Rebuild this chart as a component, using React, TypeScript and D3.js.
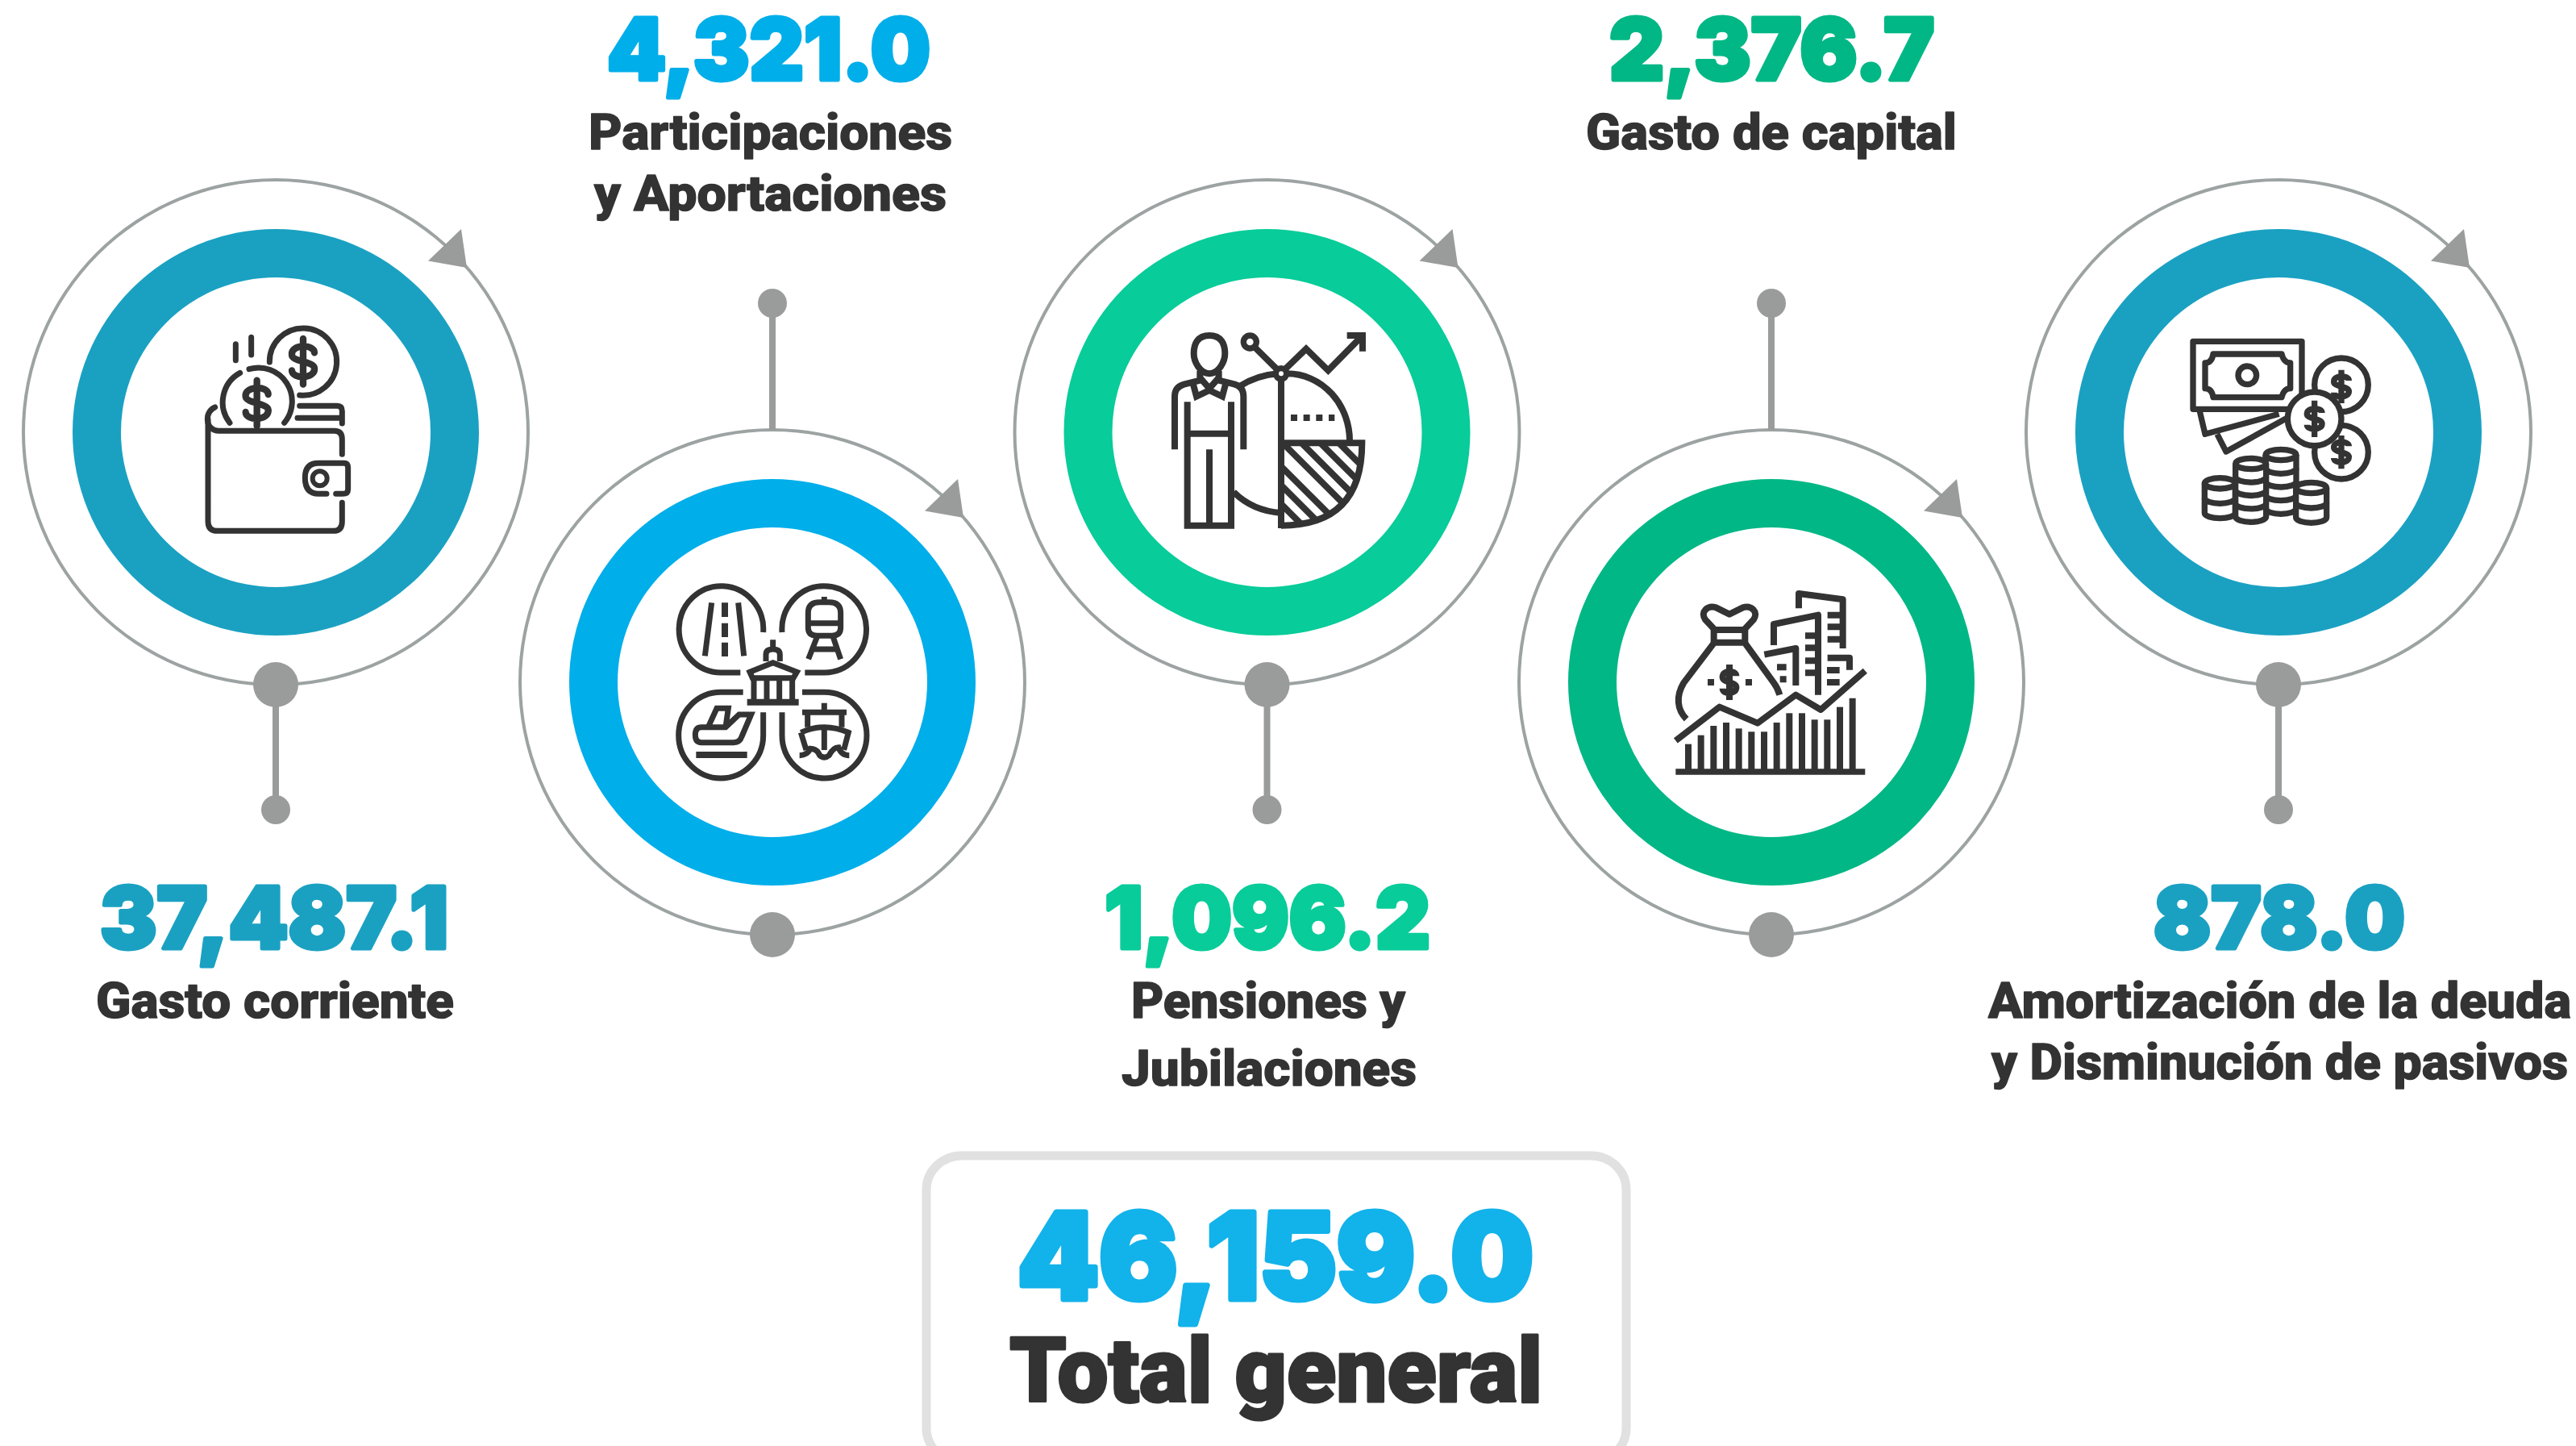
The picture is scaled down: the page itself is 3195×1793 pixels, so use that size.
import React from "react";
import { arc, format, scaleOrdinal } from "d3";

const WIDTH = 3195;
const HEIGHT = 1793;

// data
const categories = ["corriente", "participaciones", "pensiones", "capital", "amortizacion"];
const values = [37487.1, 4321.0, 1096.2, 2376.7, 878.0];
const labels = [
  ["Gasto corriente"],
  ["Participaciones", "y Aportaciones"],
  ["Pensiones y", "Jubilaciones"],
  ["Gasto de capital"],
  ["Amortización de la deuda", "y Disminución de pasivos"],
];
const totalValue = 46159.0;
const totalLabel = "Total general";

// layout
const centerXs = [342, 958, 1571.5, 2197, 2826];
const ringColors = ["#1aa1c2", "#00aeea", "#08cc99", "#00b785", "#1aa1c2"];
const valueSpans = [[124, 556], [753, 1154], [1370, 1774], [1996, 2399], [2671, 2983]];
const labelSpans = [
  [[119, 563]],
  [[730, 1181], [737, 1174]],
  [[1403, 1743], [1391, 1757]],
  [[1967, 2427]],
  [[2466, 3189], [2470, 3185]],
];
const labelBaselines = [[1262], [185, 261], [1262, 1346], [185], [1262, 1338]];
const valueBaselines = [1176, 99, 1176, 99, 1176];
const centerYs = [536, 846, 536, 846, 536];

const xScale = scaleOrdinal<string, number>().domain(categories).range(centerXs);
const yScale = scaleOrdinal<string, number>().domain(categories).range(centerYs);
const colorScale = scaleOrdinal<string, string>().domain(categories).range(ringColors);
const fmt = format(",.1f");

const ringPath = arc()({ innerRadius: 192, outerRadius: 252, startAngle: 0, endAngle: Math.PI * 2 }) as string;
const orbitPath = arc()({ innerRadius: 311, outerRadius: 315, startAngle: 0, endAngle: Math.PI * 2 }) as string;

const DARK = "#333333";
const GREY = "#9a9c9b";

const dollar = (cx: number, cy: number, w: number, h: number, bar: number) =>
  `M${cx + w},${cy - h * 0.55} C${cx + w},${cy - h * 1.1} ${cx - w * 1.1},${cy - h * 1.1} ${cx - w},${cy - h * 0.42}` +
  ` C${cx - w},${cy} ${cx + w},${cy} ${cx + w},${cy + h * 0.42} C${cx + w * 1.1},${cy + h * 1.1} ${cx - w},${cy + h * 1.1} ${cx - w},${cy + h * 0.55}` +
  ` M${cx},${cy - bar} V${cy + bar}`;

const Icon = ({ x, y, width, cap, join, children }: any) => (
  <g
    transform={`translate(${x},${y}) scale(0.3333)`}
    fill="none"
    stroke={DARK}
    strokeWidth={width}
    strokeLinecap={cap}
    strokeLinejoin={join}
  >
    {children}
  </g>
);

const WalletIcon = () => (
  <Icon x={230} y={385} width={21} cap="round" join="round">
    <path d="M110,360 C88,370 82,385 82,405 C82,430 100,448 125,448 L555,448 Q583,448 583,480 L583,535" />
    <path d="M84,405 L84,785 Q84,820 120,820 L550,820 Q583,820 583,785 L583,715" />
    <path d="M525,682 L495,682 Q445,682 445,622 Q445,568 495,568 L590,568 Q605,568 605,585 L605,665 Q605,682 585,682 L560,682" />
    <circle cx={500} cy={625} r={27} strokeWidth={18} />
    <path d="M425,355 L565,355 Q583,355 583,375 L583,420 M417,400 L583,400" />
    <path d="M165,418 A125,125 0 0 1 203,232 M237,218 A125,125 0 0 1 368,418" />
    <path d="M313,192 A125,125 0 1 1 425,315" />
    <path d={dollar(266, 345, 42, 60, 85)} strokeWidth={25} />
    <path d={dollar(438, 190, 42, 60, 85)} strokeWidth={25} />
    <path d="M187,125 V185 M245,100 V165" />
  </Icon>
);

const TransportIcon = () => (
  <Icon x={820} y={710} width={21} cap="butt" join="miter">
    <path d="M380,222 A157,161 0 1 0 223,372 L295,372" />
    <path d="M450,222 A157,161 0 1 1 608,372 L535,372" />
    <path d="M305,445 L222,445 A157,160 0 0 0 222,765 A158,160 0 0 0 380,605 L380,520" />
    <path d="M525,445 L608,445 A157,160 0 0 1 608,765 A157,160 0 0 1 450,605 L450,520" />
    {/* road */}
    <path d="M188,112 L163,310 M287,112 L308,310" />
    <path d="M237,112 V165 M237,188 V240 M237,260 V312" strokeWidth={24} />
    {/* train */}
    <path d="M590,110 H625 Q668,110 668,150 V205 Q668,235 635,235 H580 Q547,235 547,205 V150 Q547,110 590,110 Z" />
    <path d="M547,188 H668 M607,90 V110 M580,240 L548,322 M640,240 L668,322 M565,285 H650" />
    {/* building */}
    <path d="M416,250 V285 M390,330 V305 Q390,285 416,285 Q442,285 442,305 V330" />
    <path d="M330,370 L416,335 L505,370 L492,392 H340 Z" />
    <path d="M345,385 V480 M393,385 V480 M440,385 V480 M488,385 V480" />
    <path d="M320,482 H512" strokeWidth={24} />
    {/* plane */}
    <path d="M150,575 H240 L290,528 L335,528 L300,610 Q293,632 270,632 H150 Q127,632 127,603 Q127,575 150,575 Z" />
    <path d="M175,575 L207,505 H250 L240,575" />
    <path d="M130,678 H320" strokeWidth={24} />
    {/* ship */}
    <path d="M525,520 H690 M607,485 V520 M545,520 V575 M672,520 V575 M607,570 V660" />
    <path d="M520,595 Q607,555 697,595 L680,660 M520,595 L540,660" />
    <path d="M515,680 Q545,680 555,655 Q580,655 590,680 Q607,695 625,680 Q640,650 660,650 Q670,680 700,680" />
  </Icon>
);

const hatchOffsets = [334, 265, 195, 125, 32, -38, -108];

const PersonIcon = () => (
  <Icon x={1380} y={380} width={24} cap="butt" join="miter">
    <clipPath id="pieClip">
      <path d="M627,508 H928 Q928,815 627,815 Z" />
    </clipPath>
    <path d="M360,108 C315,108 302,140 302,175 C302,205 325,250 360,250 C395,250 418,205 418,175 C418,140 405,108 360,108 Z" />
    <path d="M231,532 V335 Q231,300 265,290 L325,275 V240 M487,532 V335 Q487,300 455,290 L395,275 V240" />
    <path d="M300,290 L312,335 L360,312 L408,335 L420,290 M325,265 L360,305 L395,265" />
    <path d="M278,355 V815 H441 V355 M278,473 H441 M360,532 V815" />
    <path d="M470,298 Q540,255 615,250 M450,690 Q520,760 627,768" />
    <path d="M627,270 V825" />
    <path d="M650,250 A232,250 0 0 1 882,505" />
    <path d="M627,508 H928 Q928,815 627,815" />
    <g clipPath="url(#pieClip)">
      {hatchOffsets.map(c => (
        <line key={c} x1={600} y1={600 - c} x2={1000} y2={1000 - c} />
      ))}
    </g>
    <path d="M663,414 H826" strokeDasharray="24 23" />
    <circle cx={627} cy={250} r={20} strokeWidth={22} fill="#fff" />
    <circle cx={511} cy={132} r={24} strokeWidth={22} />
    <path d="M527,150 L610,232 M643,232 L720,158 L802,238 L920,118 M872,108 H930 V167" />
  </Icon>
);

const barXs = [162, 209, 256, 303, 350, 397, 444, 491, 538, 585, 632, 679, 726, 773];
const barTops = [668, 635, 600, 588, 610, 622, 622, 588, 553, 553, 577, 577, 530, 497];

const CapitalIcon = () => (
  <Icon x={2040} y={700} width={24} cap="butt" join="round">
    <path d="M155,575 C120,540 115,490 145,440 L255,295 M375,295 L480,440 Q495,460 502,485" />
    <rect x={257} y={243} width={116} height={47} />
    <path d="M258,240 L225,205 C205,175 235,150 265,160 L315,185 L365,160 C395,150 425,175 405,205 L372,240" />
    <path d={dollar(315, 438, 25, 42, 66)} />
    <path d="M234,438 H258 M375,438 H399" />
    <path d="M573,163 V108 L737,130 V312 M680,188 H737 M680,232 H737 M680,278 H737" />
    <path d="M480,300 V222 L645,188 V485 M597,265 H645 M597,310 H645 M597,358 H645 M597,403 H645" />
    <path d="M445,335 L562,312 V450 M492,382 H527 M503,427 H527" />
    <path d="M680,347 H762 V392 M678,393 H725 M678,438 H725" />
    <path d="M115,655 L278,530 L420,590 L562,485 L655,540 L820,395" />
    {barXs.map((bx, i) => (
      <line key={bx} x1={bx} x2={bx} y1={barTops[i]} y2={771} />
    ))}
    <path d="M115,771 H820" strokeWidth={22} />
  </Icon>
);

const coinStacks = [
  { cx: 447, top: 522, bottom: 722, count: 3 },
  { cx: 335, top: 555, bottom: 752, count: 3 },
  { cx: 220, top: 628, bottom: 738, count: 1 },
  { cx: 560, top: 645, bottom: 755, count: 1 },
];

const CoinStack = ({ cx, top, bottom, count }: any) => {
  const rx = 57;
  const ry = 20;
  const step = (bottom - top) / (count + 1);
  return (
    <g>
      <path
        d={`M${cx - rx},${top} V${bottom} A${rx},${ry} 0 0 0 ${cx + rx},${bottom} V${top}`}
        fill="#fff"
      />
      <ellipse cx={cx} cy={top} rx={rx} ry={ry} fill="#fff" />
      {Array.from({ length: count }, (_, k) => top + step * (k + 1)).map(ly => (
        <path key={ly} d={`M${cx - rx},${ly} A${rx},${ry} 0 0 0 ${cx + rx},${ly}`} />
      ))}
    </g>
  );
};

const MoneyIcon = () => (
  <Icon x={2680} y={390} width={22} cap="butt" join="round">
    <rect x={120} y={100} width={405} height={252} />
    <path d="M195,147 H450 Q458,180 482,180 V275 Q458,275 450,308 H195 Q190,275 165,275 V180 Q190,180 195,147 Z" />
    <circle cx={322} cy={226} r={34} />
    <path d="M145,360 L165,445 L440,370 M210,445 L243,510 L470,385" />
    <circle cx={672} cy={262} r={100} />
    <path d={dollar(672, 268, 28, 40, 62)} />
    <circle cx={672} cy={512} r={100} />
    <path d={dollar(672, 512, 28, 40, 62)} />
    <circle cx={572} cy={388} r={100} fill="#fff" />
    <path d={dollar(572, 388, 28, 40, 68)} />
    {coinStacks.map(s => (
      <CoinStack key={s.cx} {...s} />
    ))}
  </Icon>
);

const icons = [WalletIcon, TransportIcon, PersonIcon, CapitalIcon, MoneyIcon];

// stretches real text into the span it has in the reference, the stroke makes up
// for the heavier display face that is not installed here
const FitText = ({ span, y, size, fill, family, weight, bold, children }: any) => (
  <text
    x={span[0]}
    y={y}
    textLength={span[1] - span[0]}
    lengthAdjust="spacingAndGlyphs"
    fontSize={size}
    fontFamily={family}
    fontWeight={weight}
    fill={fill}
    stroke={fill}
    strokeWidth={bold}
    strokeLinejoin="round"
  >
    {children}
  </text>
);

const NUM_FONT = "Inter, Roboto, sans-serif";
const LABEL_FONT = "Roboto, Inter, sans-serif";

export default function App() {
  return (
    <svg
      width={WIDTH}
      height={HEIGHT}
      viewBox={`0 0 ${WIDTH} ${HEIGHT}`}
      style={{ position: "absolute", left: 0, top: 0, display: "block", background: "#fff" }}
    >
      {categories.map((cat, i) => {
        const cx = xScale(cat);
        const cy = yScale(cat);
        const below = cy < 700;
        const Glyph = icons[i];
        return (
          <g key={cat}>
            <g transform={`translate(${cx},${cy})`}>
              <path d={orbitPath} fill="#9ca3a2" />
              <path d={ringPath} fill={colorScale(cat)} />
              <polygon points="230,-252 237,-204 189,-212.5" fill={GREY} />
              {below ? (
                <g>
                  <line x1={0} x2={0} y1={313} y2={468} stroke={GREY} strokeWidth={8} />
                  <circle cx={0} cy={313} r={28} fill={GREY} />
                  <circle cx={0} cy={468} r={18} fill={GREY} />
                </g>
              ) : (
                <g>
                  <line x1={0} x2={0} y1={-313} y2={-470} stroke={GREY} strokeWidth={8} />
                  <circle cx={0} cy={-470} r={18} fill={GREY} />
                  <circle cx={0} cy={313} r={28} fill={GREY} />
                </g>
              )}
            </g>
            <Glyph />
            <FitText
              span={valueSpans[i]}
              y={valueBaselines[i]}
              size={106}
              fill={colorScale(cat)}
              family={NUM_FONT}
              weight={900}
              bold={5}
            >
              {fmt(values[i])}
            </FitText>
            {labels[i].map((line, j) => (
              <FitText
                key={line}
                span={labelSpans[i][j]}
                y={labelBaselines[i][j]}
                size={62}
                fill={DARK}
                family={LABEL_FONT}
                weight={800}
                bold={1.5}
              >
                {line}
              </FitText>
            ))}
          </g>
        );
      })}

      <rect x={1149} y={1433} width={868} height={380} rx={44} ry={42} fill="#fff" stroke="#e1e1e1" strokeWidth={11} />
      <FitText span={[1262, 1902]} y={1611} size={148} fill="#12b2ea" family={NUM_FONT} weight={900} bold={7}>
        {fmt(totalValue)}
      </FitText>
      <FitText span={[1252, 1913]} y={1738} size={112} fill={DARK} family={LABEL_FONT} weight={900} bold={3}>
        {totalLabel}
      </FitText>
    </svg>
  );
}
